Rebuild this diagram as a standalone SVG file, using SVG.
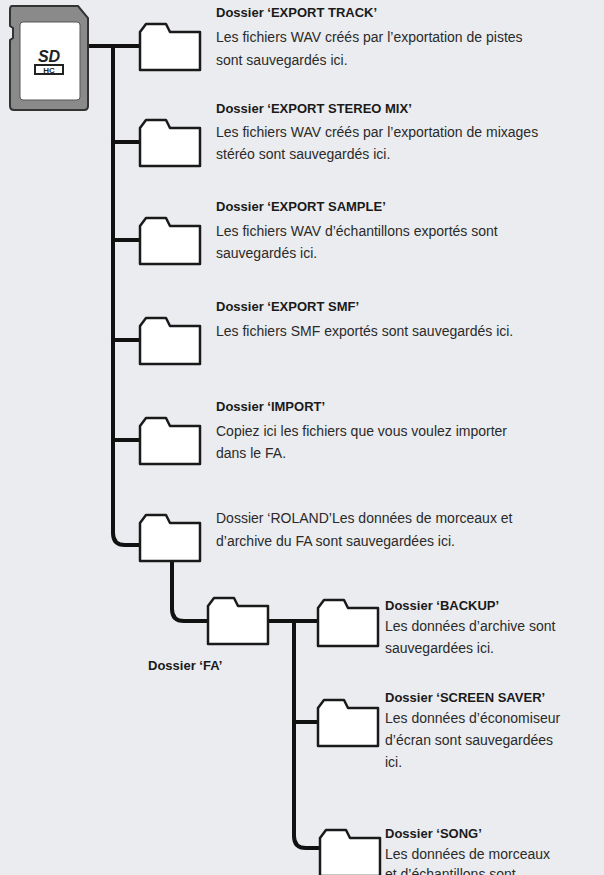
<svg xmlns="http://www.w3.org/2000/svg" width="604" height="875" viewBox="0 0 604 875">
<defs>
<style>
.t{font-family:"Liberation Sans",Arial,sans-serif;font-size:13px;font-weight:bold;fill:#1a1a1a}
.d{font-family:"Liberation Sans",Arial,sans-serif;font-size:14px;fill:#2a2a2a}
.f{fill:#fff;stroke:#1a1a1a;stroke-width:2.5;stroke-linejoin:round}
.c{fill:none;stroke:#111;stroke-width:4;stroke-linecap:round;stroke-linejoin:round}
</style>
<path id="fold" d="M0,8 L0,46 L60,46 L60,8 L30,8 L26,0 L6,0 Z"/>
</defs>
<rect width="604" height="875" fill="#eaecef"/>
<g id="connectors">
<path class="c" d="M88,46 H140"/>
<path class="c" d="M113,46 V533 Q113,545 125,545 H140"/>
<path class="c" d="M113,142 H140 M113,240 H140 M113,340 H140 M113,440 H140"/>
<path class="c" d="M172,560 V609 Q172,621 184,621 H208"/>
<path class="c" d="M267,621 H318"/>
<path class="c" d="M294,621 V836 Q294,848 306,848 H320"/>
<path class="c" d="M294,722 H318"/>
</g>
<g id="sdcard">
<path d="M12,6 H78 L88,18 V106 Q88,110 84,110 H14 Q10,110 10,106 V40 L13,38 V28 L10,26 V10 Q10,6 12,6 Z" fill="#8a8a8a" stroke="#333" stroke-width="2"/>
<rect x="20" y="22" width="60" height="78" rx="3" fill="#fff" stroke="#555" stroke-width="1"/>
<text x="49" y="62" font-family="Liberation Sans,Arial,sans-serif" font-size="16" font-weight="bold" font-style="italic" text-anchor="middle" fill="#222">SD</text>
<rect x="35" y="65" width="28" height="9" fill="none" stroke="#222" stroke-width="2"/>
<text x="49" y="73" font-family="Liberation Sans,Arial,sans-serif" font-size="8" font-weight="bold" text-anchor="middle" fill="#222">HC</text>
</g>
<g id="n1"><use href="#fold" class="f" x="140" y="24"/><text class="t" x="216" y="17">Dossier ‘EXPORT TRACK’</text><text class="d" x="216" y="42">Les fichiers WAV créés par l’exportation de pistes</text><text class="d" x="216" y="65">sont sauvegardés ici.</text></g>
<g id="n2"><use href="#fold" class="f" x="140" y="120"/><text class="t" x="216" y="113">Dossier ‘EXPORT STEREO MIX’</text><text class="d" x="216" y="137">Les fichiers WAV créés par l’exportation de mixages</text><text class="d" x="216" y="159">stéréo sont sauvegardés ici.</text></g>
<g id="n3"><use href="#fold" class="f" x="140" y="218"/><text class="t" x="216" y="211">Dossier ‘EXPORT SAMPLE’</text><text class="d" x="216" y="236">Les fichiers WAV d’échantillons exportés sont</text><text class="d" x="216" y="258">sauvegardés ici.</text></g>
<g id="n4"><use href="#fold" class="f" x="140" y="318"/><text class="t" x="216" y="311">Dossier ‘EXPORT SMF’</text><text class="d" x="216" y="336">Les fichiers SMF exportés sont sauvegardés ici.</text></g>
<g id="n5"><use href="#fold" class="f" x="140" y="418"/><text class="t" x="216" y="411">Dossier ‘IMPORT’</text><text class="d" x="216" y="436">Copiez ici les fichiers que vous voulez importer</text><text class="d" x="216" y="458">dans le FA.</text></g>
<g id="n6"><use href="#fold" class="f" x="140" y="515"/><text class="d" x="216" y="523">Dossier ‘ROLAND’Les données de morceaux et</text><text class="d" x="216" y="546">d’archive du FA sont sauvegardées ici.</text></g>
<g id="fa"><use href="#fold" class="f" x="208" y="598"/><text class="t" x="148" y="670">Dossier ‘FA’</text></g>
<g id="backup"><use href="#fold" class="f" x="318" y="600"/><text class="t" x="385" y="610">Dossier ‘BACKUP’</text><text class="d" x="385" y="631">Les données d’archive sont</text><text class="d" x="385" y="653">sauvegardées ici.</text></g>
<g id="screensaver"><use href="#fold" class="f" x="318" y="700"/><text class="t" x="385" y="702">Dossier ‘SCREEN SAVER’</text><text class="d" x="385" y="723">Les données d’économiseur</text><text class="d" x="385" y="745">d’écran sont sauvegardées</text><text class="d" x="385" y="767">ici.</text></g>
<g id="song"><use href="#fold" class="f" x="320" y="830"/><text class="t" x="385" y="838">Dossier ‘SONG’</text><text class="d" x="385" y="859">Les données de morceaux</text><text class="d" x="385" y="879">et d’échantillons sont</text></g>
</svg>
